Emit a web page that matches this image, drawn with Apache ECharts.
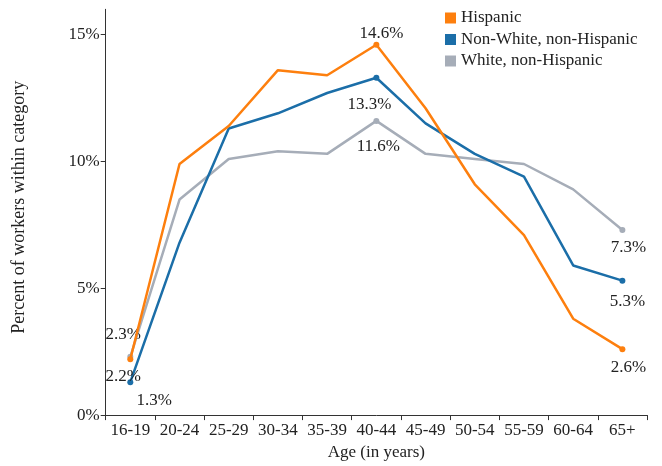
<!DOCTYPE html>
<html>
<head>
<meta charset="utf-8">
<script src="https://cdn.jsdelivr.net/npm/echarts@6/dist/echarts.min.js"></script>
<style>html,body{margin:0;padding:0;background:#fff}#c{width:662px;height:466px}</style>
</head>
<body>
<div id="c"></div>
<script>
var categories = ['16-19','20-24','25-29','30-34','35-39','40-44','45-49','50-54','55-59','60-64','65+'];
var hispanic = [2.2, 9.9, 11.4, 13.6, 13.4, 14.6, 12.1, 9.1, 7.1, 3.8, 2.6];
var nonWhite = [1.3, 6.8, 11.3, 11.9, 12.7, 13.3, 11.5, 10.3, 9.4, 5.9, 5.3];
var white = [2.3, 8.5, 10.1, 10.4, 10.3, 11.6, 10.3, 10.1, 9.9, 8.9, 7.3];
var yTicks = [0, 5, 10, 15];
var seriesNames = ['Hispanic', 'Non-White, non-Hispanic', 'White, non-Hispanic'];

var FONT = 'Liberation Serif';
var colors = { h: '#fd7f0e', n: '#1b6ea8', w: '#a6adb8' };

// label settings per series: index -> {position, offset}
var labelCfg = {
  h: { 0: ['bottom', [-7, 1]], 5: ['top', [5, 5]], 10: ['bottom', [6, 2]] },
  n: { 0: ['bottom', [24, 2]], 5: ['bottom', [-7, 10]], 10: ['bottom', [5, 4]] },
  w: { 0: ['top', [-7, -6]], 5: ['bottom', [2, 9]], 10: ['bottom', [6, 1.5]] }
};

function build(values, key) {
  return values.map(function (v, i) {
    var c = labelCfg[key][i];
    if (!c) return { value: v, symbolSize: 0 };
    return {
      value: v,
      symbolSize: 6,
      label: {
        show: true, position: c[0], offset: c[1], distance: 5,
        formatter: function (p) { return p.value.toFixed(1) + '%'; },
        color: '#222', fontFamily: FONT, fontSize: 17
      }
    };
  });
}

var chart = echarts.init(document.getElementById('c'), null, { renderer: 'canvas' });
chart.setOption({
  animation: false,
  grid: { left: 105.7, right: 15, top: 9.3, bottom: 47.5, containLabel: false },
  legend: {
    data: seriesNames,
    orient: 'vertical', left: 440, top: 4.5,
    icon: 'rect', itemWidth: 11, itemHeight: 11, itemGap: 4.5,
    textStyle: { fontFamily: FONT, fontSize: 17, color: '#222' }
  },
  xAxis: {
    type: 'category', data: categories, boundaryGap: true,
    axisLine: { lineStyle: { color: '#333', width: 1 } },
    axisTick: { show: true, length: 5, lineStyle: { color: '#333' } },
    axisLabel: { fontFamily: FONT, fontSize: 17, color: '#222', margin: 7, interval: 0 },
    name: 'Age (in years)', nameLocation: 'middle', nameGap: 27,
    nameTextStyle: { fontFamily: FONT, fontSize: 17, color: '#222' }
  },
  yAxis: {
    type: 'value', min: 0, max: 16, interval: 5,
    splitLine: { show: false },
    axisLine: { show: true, lineStyle: { color: '#333', width: 1 } },
    axisTick: { show: true, length: 5, customValues: yTicks, lineStyle: { color: '#333' } },
    axisLabel: { fontFamily: FONT, fontSize: 17, color: '#222', margin: 6, customValues: yTicks,
      formatter: function (v) { return v + '%'; } },
    name: 'Percent of workers within category', nameLocation: 'middle', nameGap: 77,
    nameTextStyle: { fontFamily: FONT, fontSize: 18, color: '#222', padding: [0, 0, 0, 10] }
  },
  series: [
    { name: seriesNames[2], type: 'line', data: build(white, 'w'), color: colors.w,
      symbol: 'circle', lineStyle: { width: 2.5 }, z: 2 },
    { name: seriesNames[1], type: 'line', data: build(nonWhite, 'n'), color: colors.n,
      symbol: 'circle', lineStyle: { width: 2.5 }, z: 3 },
    { name: seriesNames[0], type: 'line', data: build(hispanic, 'h'), color: colors.h,
      symbol: 'circle', lineStyle: { width: 2.5 }, z: 4 }
  ]
});
</script>
</body>
</html>
